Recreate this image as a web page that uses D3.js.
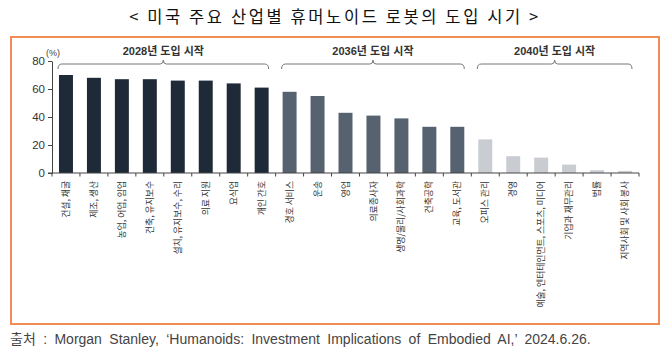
<!DOCTYPE html>
<html><head><meta charset="utf-8">
<script src="https://cdn.jsdelivr.net/npm/d3@7/dist/d3.min.js"></script>
<style>
html,body{margin:0;padding:0;background:#fff;}
svg{display:block;font-family:"Liberation Sans","Noto Sans CJK KR",sans-serif;}
</style></head>
<body>
<svg id="chart" width="669" height="355"></svg>
<script>
const categories = ["건설, 채굴","제조, 생산","농업, 어업, 임업","건축, 유지보수","설치, 유지보수, 수리","의료 지원","요식업","개인 간호",
  "경호 서비스","운송","영업","의료종사자","생명/물리/사회과학","건축공학","교육, 도서관",
  "오피스 관리","경영","예술, 엔터테인먼트, 스포츠, 미디어","기업과 재무관리","법률","지역사회 및 사회 봉사"];
const values = [70,68,67,67,66,66,64,61, 58,55,43,41,39,33,33, 24,12,11,6,2,1.5];
const groupOf = [0,0,0,0,0,0,0,0, 1,1,1,1,1,1,1, 2,2,2,2,2,2];
const groupLabels = ["2028년 도입 시작","2036년 도입 시작","2040년 도입 시작"];
const groupColors = ["#1f2a38","#56626f","#c9cdd2"];
const yTicks = [0,20,40,60,80];
const titleText = "< 미국 주요 산업별 휴머노이드 로봇의 도입 시기 >";
const sourceText = "출처 : Morgan Stanley, ‘Humanoids: Investment Implications of Embodied AI,’ 2024.6.26.";

const svg = d3.select("#chart");
const x = d3.scaleBand().domain(d3.range(categories.length)).range([52, 639]).paddingInner(0.5).paddingOuter(0.25);
const y = d3.scaleLinear().domain([0, 80]).range([173, 61]);

// title
svg.append("text").attr("x", 335).attr("y", 23).attr("text-anchor", "middle")
  .attr("font-family", "'Noto Sans CJK KR',sans-serif").attr("font-size", 16.5)
  .attr("letter-spacing", "2.6px").attr("fill", "#111").text(titleText);

// frame
svg.append("rect").attr("x", 11).attr("y", 37).attr("width", 648).attr("height", 287)
  .attr("fill", "none").attr("stroke", "#f08c55").attr("stroke-width", 2);

// bars
svg.append("g").selectAll("rect").data(values).join("rect")
  .attr("x", (d, i) => x(i)).attr("width", x.bandwidth())
  .attr("y", d => y(d)).attr("height", d => y(0) - y(d))
  .attr("fill", (d, i) => groupColors[groupOf[i]]);

// y axis
const ya = svg.append("g").attr("transform", "translate(52,0)")
  .call(d3.axisLeft(y).tickValues(yTicks).tickSize(4).tickSizeOuter(0).tickPadding(3));
ya.select(".domain").attr("stroke", "#444");
ya.selectAll(".tick line").attr("stroke", "#444");
ya.selectAll("text").attr("font-size", 11.5).attr("fill", "#333").attr("font-family", "'Liberation Sans',sans-serif");

svg.append("text").attr("x", 46).attr("y", 56).attr("font-size", 9).attr("fill", "#444").text("(%)");

// x axis baseline and ticks at band boundaries
const step = x.step();
const x0 = x.range()[0];
svg.append("line").attr("x1", 48).attr("x2", 639).attr("y1", y(0)).attr("y2", y(0)).attr("stroke", "#444");
svg.append("g").selectAll("line").data(d3.range(categories.length + 1)).join("line")
  .attr("x1", i => x0 + i * step).attr("x2", i => x0 + i * step)
  .attr("y1", y(0)).attr("y2", y(0) + 3.5).attr("stroke", "#444");

// category labels
svg.append("g").selectAll("text").data(categories).join("text")
  .attr("transform", (d, i) => `translate(${x(i) + x.bandwidth() / 2},181) rotate(-90)`)
  .attr("text-anchor", "end").attr("dy", "0.35em")
  .attr("font-size", 8.8).attr("font-family", "'Noto Sans CJK KR',sans-serif").attr("fill", "#333")
  .text(d => d);

// group brackets
const groups = [0, 1, 2].map(g => {
  const idx = d3.range(categories.length).filter(i => groupOf[i] === g);
  return { g, a: x(idx[0]) - 1, b: x(idx[idx.length - 1]) + x.bandwidth() };
});
const by = 64;
svg.append("g").selectAll("path").data(groups).join("path")
  .attr("d", d => {
    const c = (d.a + d.b) / 2;
    return `M${d.a},${by + 5} Q${d.a},${by} ${d.a + 4},${by} L${c - 3},${by} Q${c},${by} ${c},${by - 4} Q${c},${by} ${c + 3},${by} L${d.b - 4},${by} Q${d.b},${by} ${d.b},${by + 5}`;
  })
  .attr("fill", "none").attr("stroke", "#777").attr("stroke-width", 1);
svg.append("g").selectAll("text").data(groups).join("text")
  .attr("x", d => (d.a + d.b) / 2).attr("y", 55).attr("text-anchor", "middle")
  .attr("font-size", 11).attr("font-weight", "bold").attr("fill", "#333")
  .text(d => groupLabels[d.g]);

// source
svg.append("text").attr("x", 10).attr("y", 344).attr("font-size", 14).attr("fill", "#444")
  .attr("font-family", "'Liberation Sans','Noto Sans CJK KR',sans-serif")
  .attr("word-spacing", "3.5px")
  .text(sourceText);
</script>
</body></html>
